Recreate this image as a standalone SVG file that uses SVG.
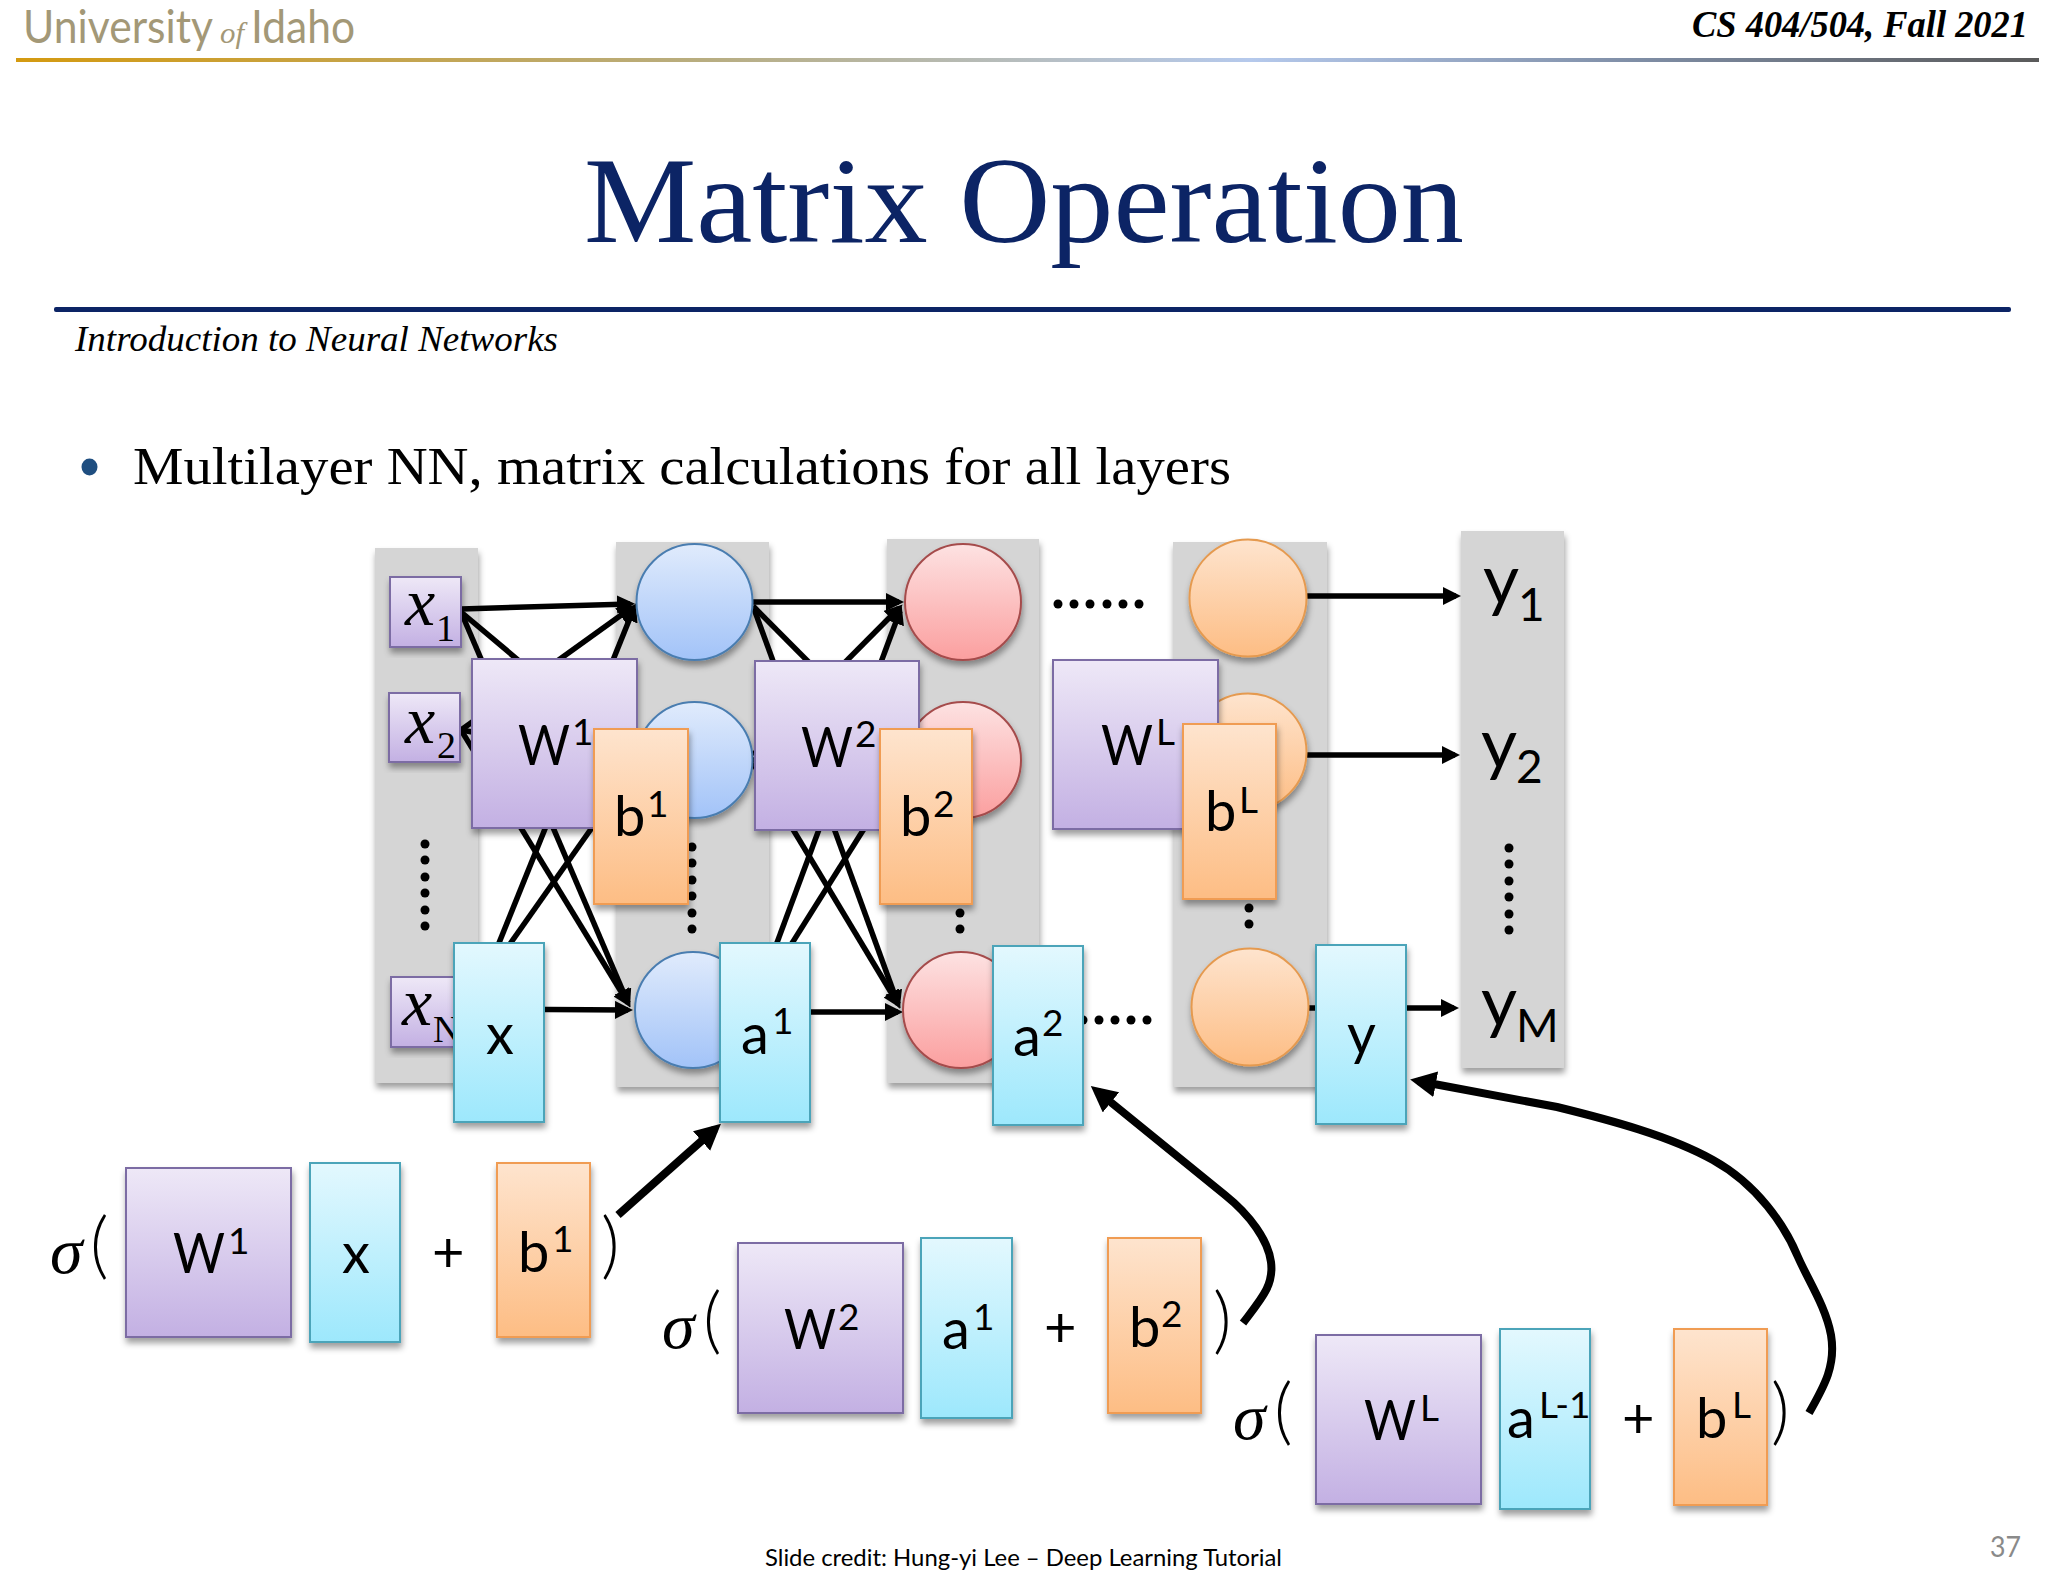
<svg xmlns="http://www.w3.org/2000/svg" width="2048" height="1582" viewBox="0 0 2048 1582">
<defs>
<linearGradient id="gPur" x1="0" y1="0" x2="0" y2="1"><stop offset="0" stop-color="#eee8f7"/><stop offset="1" stop-color="#c3b0e3"/></linearGradient>
<linearGradient id="gCya" x1="0" y1="0" x2="0" y2="1"><stop offset="0" stop-color="#e3f8fe"/><stop offset="1" stop-color="#9de8fc"/></linearGradient>
<linearGradient id="gOra" x1="0" y1="0" x2="0" y2="1"><stop offset="0" stop-color="#fee4ce"/><stop offset="1" stop-color="#fdbd84"/></linearGradient>
<linearGradient id="gBlu" x1="0" y1="0" x2="0" y2="1"><stop offset="0" stop-color="#e0ebfc"/><stop offset="1" stop-color="#a2c3f8"/></linearGradient>
<linearGradient id="gRed" x1="0" y1="0" x2="0" y2="1"><stop offset="0" stop-color="#fde2e2"/><stop offset="1" stop-color="#fb9f9f"/></linearGradient>
<linearGradient id="gRule" x1="0" y1="0" x2="1" y2="0"><stop offset="0" stop-color="#d49a10"/><stop offset="0.34" stop-color="#b8ad80"/><stop offset="0.61" stop-color="#b5c9ec"/><stop offset="0.8" stop-color="#7f8ea6"/><stop offset="1" stop-color="#5a5a5a"/></linearGradient>
<filter id="sh" x="-15%" y="-15%" width="130%" height="130%"><feDropShadow dx="1" dy="5" stdDeviation="3" flood-color="#000" flood-opacity="0.38"/></filter>
<marker id="ah" markerUnits="userSpaceOnUse" markerWidth="24" markerHeight="24" refX="13" refY="9" orient="auto"><path d="M0 0L18 9L0 18z" fill="#000"/></marker>
<marker id="ahB" markerUnits="userSpaceOnUse" markerWidth="34" markerHeight="34" refX="18" refY="13" orient="auto"><path d="M0 0L26 13L0 26z" fill="#000"/></marker>
</defs>
<style>
.band{fill:#d5d5d5;filter:url(#sh)}
.pur{fill:url(#gPur);stroke:#7c6ca4;stroke-width:2;filter:url(#sh)}
.cya{fill:url(#gCya);stroke:#4ba4b9;stroke-width:2;filter:url(#sh)}
.ora{fill:url(#gOra);stroke:#f09c52;stroke-width:2;filter:url(#sh)}
.blu{fill:url(#gBlu);stroke:#4a7db0;stroke-width:2;filter:url(#sh)}
.red{fill:url(#gRed);stroke:#a54c4c;stroke-width:2;filter:url(#sh)}
.oc{fill:url(#gOra);stroke:#e59a50;stroke-width:2;filter:url(#sh)}
.l{font-family:Lato,"Liberation Sans",sans-serif;font-size:56px;fill:#000}
.s{font-family:Lato,"Liberation Sans",sans-serif;font-size:37px;fill:#000}
.yl{font-family:Lato,"Liberation Sans",sans-serif;font-size:70px;fill:#000}
.ys{font-family:Lato,"Liberation Sans",sans-serif;font-size:46px;fill:#000}
.xi{font-family:"Liberation Serif",serif;font-style:italic;font-size:68px;fill:#000}
.xs{font-family:"Liberation Serif",serif;font-size:38px;fill:#000}
.sg{font-family:"Liberation Serif",serif;font-style:italic;font-size:66px;fill:#000}
.p{font-family:Lato,"Liberation Sans",sans-serif;font-weight:300;font-size:72px;fill:#000}
.eh{stroke:#000;stroke-width:5.5;fill:none;marker-end:url(#ah)}
.c{stroke:#000;stroke-width:8;fill:none;marker-end:url(#ahB)}
.d{fill:#000}
</style>
<rect width="2048" height="1582" fill="#fff"/>
<g id="header">
<text x="23" y="43" font-family="Lato,'Liberation Sans',sans-serif" font-weight="400" font-size="46" fill="#a39877" textLength="190" lengthAdjust="spacingAndGlyphs">University</text>
<text x="220" y="43" font-family="'Liberation Serif',serif" font-style="italic" font-size="30" fill="#a39877" textLength="24" lengthAdjust="spacingAndGlyphs">of</text>
<text x="251" y="43" font-family="Lato,'Liberation Sans',sans-serif" font-weight="400" font-size="46" fill="#a39877" textLength="104" lengthAdjust="spacingAndGlyphs">Idaho</text>
<rect x="16" y="58" width="2023" height="4" fill="url(#gRule)"/>
<text x="1692" y="37" font-family="'Liberation Serif',serif" font-style="italic" font-weight="700" font-size="38" fill="#000" textLength="336" lengthAdjust="spacingAndGlyphs">CS 404/504, Fall 2021</text>
<text x="584" y="242" font-family="'Liberation Serif',serif" font-size="122" fill="#0c2465" textLength="880" lengthAdjust="spacingAndGlyphs">Matrix Operation</text>
<rect x="54" y="307" width="1957" height="5" rx="2" fill="#0c2465"/>
<text x="75" y="351" font-family="'Liberation Serif',serif" font-style="italic" font-size="36" fill="#000" textLength="483" lengthAdjust="spacingAndGlyphs">Introduction to Neural Networks</text>
<ellipse cx="89.5" cy="467" rx="8" ry="8.5" fill="#1f4e80"/>
<text x="133" y="484" font-family="'Liberation Serif',serif" font-size="53" fill="#000" textLength="1098" lengthAdjust="spacingAndGlyphs">Multilayer NN, matrix calculations for all layers</text>
</g>
<g id="layer-input"><rect class="band" x="375" y="548" width="103" height="535"/></g>
<g id="layer-1"><rect class="band" x="616" y="542" width="153" height="545"/></g>
<g id="layer-2"><rect class="band" x="887" y="539" width="152" height="544"/></g>
<g id="layer-L"><rect class="band" x="1173" y="542" width="154" height="545"/></g>
<g id="layer-output"><rect class="band" x="1461" y="531" width="103" height="537"/></g>
<g id="dots">
<circle class="d" cx="425" cy="844" r="4.5"/><circle class="d" cx="425" cy="860" r="4.5"/><circle class="d" cx="425" cy="877" r="4.5"/><circle class="d" cx="425" cy="893" r="4.5"/><circle class="d" cx="425" cy="910" r="4.5"/><circle class="d" cx="425" cy="926" r="4.5"/>
<circle class="d" cx="692" cy="847" r="4.5"/><circle class="d" cx="692" cy="863" r="4.5"/><circle class="d" cx="692" cy="880" r="4.5"/><circle class="d" cx="692" cy="896" r="4.5"/><circle class="d" cx="692" cy="913" r="4.5"/><circle class="d" cx="692" cy="929" r="4.5"/>
<circle class="d" cx="960" cy="913" r="4.5"/><circle class="d" cx="960" cy="929" r="4.5"/>
<circle class="d" cx="1249" cy="908" r="4.5"/><circle class="d" cx="1249" cy="924" r="4.5"/>
<circle class="d" cx="1509" cy="848" r="4.5"/><circle class="d" cx="1509" cy="864" r="4.5"/><circle class="d" cx="1509" cy="881" r="4.5"/><circle class="d" cx="1509" cy="897" r="4.5"/><circle class="d" cx="1509" cy="914" r="4.5"/><circle class="d" cx="1509" cy="930" r="4.5"/>
<circle class="d" cx="1058" cy="604" r="4.5"/><circle class="d" cx="1074" cy="604" r="4.5"/><circle class="d" cx="1090" cy="604" r="4.5"/><circle class="d" cx="1107" cy="604" r="4.5"/><circle class="d" cx="1123" cy="604" r="4.5"/><circle class="d" cx="1139" cy="604" r="4.5"/>
<circle class="d" cx="1083" cy="1020" r="4.5"/><circle class="d" cx="1099" cy="1020" r="4.5"/><circle class="d" cx="1115" cy="1020" r="4.5"/><circle class="d" cx="1131" cy="1020" r="4.5"/><circle class="d" cx="1147" cy="1020" r="4.5"/>
</g>
<g id="connectors">
<line class="eh" x1="461" y1="609" x2="630" y2="604"/>
<line class="eh" x1="461" y1="612" x2="631" y2="755"/>
<line class="eh" x1="461" y1="612" x2="628" y2="1003"/>
<line class="eh" x1="461" y1="730" x2="631" y2="608"/>
<line class="eh" x1="461" y1="730" x2="631" y2="760"/>
<line class="eh" x1="461" y1="730" x2="628" y2="1003"/>
<line class="eh" x1="472" y1="1010" x2="634" y2="608"/>
<line class="eh" x1="462" y1="1012" x2="634" y2="768"/>
<line class="eh" x1="470" y1="1009" x2="628" y2="1010"/>
<line class="eh" x1="753" y1="602" x2="899" y2="602"/>
<line class="eh" x1="753" y1="606" x2="901" y2="755"/>
<line class="eh" x1="753" y1="606" x2="898" y2="1004"/>
<line class="eh" x1="753" y1="755" x2="899" y2="608"/>
<line class="eh" x1="753" y1="760" x2="899" y2="760"/>
<line class="eh" x1="753" y1="763" x2="898" y2="1004"/>
<line class="eh" x1="752" y1="1010" x2="900" y2="611"/>
<line class="eh" x1="750" y1="1010" x2="901" y2="770"/>
<line class="eh" x1="752" y1="1012" x2="898" y2="1012"/>
<line class="eh" x1="1307" y1="596" x2="1456" y2="596"/>
<line class="eh" x1="1307" y1="755" x2="1455" y2="755"/>
<line class="eh" x1="1307" y1="1008" x2="1454" y2="1008"/>
<path class="c" d="M618 1215L715 1129"/>
<path class="c" d="M1243 1323C1262 1298 1274 1285 1271 1262C1268 1240 1250 1215 1225 1195L1097 1091"/>
<path class="c" d="M1809 1413C1825 1385 1836 1365 1831 1335C1826 1307 1808 1280 1798 1257C1785 1226 1758 1185 1713 1160C1670 1136 1610 1120 1557 1107L1418 1081"/>
</g>
<g id="x1"><rect class="pur" x="390" y="577" width="71" height="70"/><text class="xi" x="405" y="625">x</text><text class="xs" x="436" y="641">1</text></g>
<g id="x2"><rect class="pur" x="389" y="693" width="71" height="69"/><text class="xi" x="405" y="743">x</text><text class="xs" x="437" y="758">2</text></g>
<g id="xN"><rect class="pur" x="391" y="977" width="71" height="70"/><text class="xi" x="402" y="1025">x</text><text class="xs" x="433" y="1042">N</text></g>
<g id="blue1"><circle class="blu" cx="694.5" cy="602" r="58"/></g>
<g id="blue2"><circle class="blu" cx="694.5" cy="760" r="58"/></g>
<g id="blue3"><circle class="blu" cx="693" cy="1010" r="58"/></g>
<g id="red1"><circle class="red" cx="963" cy="602" r="58"/></g>
<g id="red2"><circle class="red" cx="963" cy="760" r="58"/></g>
<g id="red3"><circle class="red" cx="961" cy="1010" r="58"/></g>
<g id="or1"><circle class="oc" cx="1248" cy="598" r="58.5"/></g>
<g id="or2"><circle class="oc" cx="1248" cy="752" r="58.5"/></g>
<g id="or3"><circle class="oc" cx="1250" cy="1007" r="58.5"/></g>
<g id="W1"><rect class="pur" x="472" y="659" width="165" height="169"/><text class="l" x="518" y="765" textLength="52" lengthAdjust="spacingAndGlyphs">W</text><text class="s" x="572" y="745">1</text></g>
<g id="b1"><rect class="ora" x="594" y="729" width="94" height="175"/><text class="l" x="614" y="836">b</text><text class="s" x="647" y="817">1</text></g>
<g id="x"><rect class="cya" x="454" y="943" width="90" height="179"/><text class="l" x="486" y="1054">x</text></g>
<g id="a1"><rect class="cya" x="720" y="943" width="90" height="179"/><text class="l" x="741" y="1054">a</text><text class="s" x="772" y="1034">1</text></g>
<g id="W2"><rect class="pur" x="755" y="661" width="164" height="169"/><text class="l" x="801" y="767" textLength="52" lengthAdjust="spacingAndGlyphs">W</text><text class="s" x="855" y="747">2</text></g>
<g id="b2"><rect class="ora" x="880" y="729" width="92" height="175"/><text class="l" x="900" y="836">b</text><text class="s" x="933" y="817">2</text></g>
<g id="a2"><rect class="cya" x="993" y="946" width="90" height="179"/><text class="l" x="1013" y="1056">a</text><text class="s" x="1042" y="1036">2</text></g>
<g id="WL"><rect class="pur" x="1053" y="660" width="165" height="169"/><text class="l" x="1101" y="765" textLength="52" lengthAdjust="spacingAndGlyphs">W</text><text class="s" x="1156" y="745">L</text></g>
<g id="bL"><rect class="ora" x="1183" y="724" width="93" height="175"/><text class="l" x="1205" y="831">b</text><text class="s" x="1239" y="813">L</text></g>
<g id="y"><rect class="cya" x="1316" y="945" width="90" height="179"/><text class="l" x="1347" y="1054">y</text></g>
<g id="y1"><text class="yl" x="1483" y="604">y</text><text class="ys" x="1518" y="621">1</text></g>
<g id="y2"><text class="yl" x="1481" y="768">y</text><text class="ys" x="1516" y="783">2</text></g>
<g id="yM"><text class="yl" x="1481" y="1026">y</text><text class="ys" x="1516" y="1042">M</text></g>
<g id="formula-1">
<text class="sg" x="50" y="1273">σ</text><text class="p" x="90" y="1270">(</text>
<rect class="pur" x="126" y="1168" width="165" height="169"/><text class="l" x="173" y="1273" textLength="52" lengthAdjust="spacingAndGlyphs">W</text><text class="s" x="228" y="1254">1</text>
<rect class="cya" x="310" y="1163" width="90" height="179"/><text class="l" x="342" y="1273">x</text>
<text class="l" x="432" y="1272">+</text>
<rect class="ora" x="497" y="1163" width="93" height="174"/><text class="l" x="518" y="1272">b</text><text class="s" x="552" y="1252">1</text>
<text class="p" x="601" y="1270">)</text>
</g>
<g id="formula-2">
<text class="sg" x="662" y="1348">σ</text><text class="p" x="703" y="1345">(</text>
<rect class="pur" x="738" y="1243" width="165" height="170"/><text class="l" x="784" y="1349" textLength="52" lengthAdjust="spacingAndGlyphs">W</text><text class="s" x="838" y="1330">2</text>
<rect class="cya" x="921" y="1238" width="91" height="180"/><text class="l" x="942" y="1349">a</text><text class="s" x="973" y="1330">1</text>
<text class="l" x="1044" y="1347">+</text>
<rect class="ora" x="1108" y="1238" width="93" height="175"/><text class="l" x="1129" y="1347">b</text><text class="s" x="1161" y="1327">2</text>
<text class="p" x="1213" y="1345">)</text>
</g>
<g id="formula-3">
<text class="sg" x="1233" y="1439">σ</text><text class="p" x="1274" y="1436">(</text>
<rect class="pur" x="1316" y="1335" width="165" height="169"/><text class="l" x="1364" y="1440" textLength="52" lengthAdjust="spacingAndGlyphs">W</text><text class="s" x="1420" y="1421">L</text>
<rect class="cya" x="1500" y="1329" width="90" height="180"/><text class="l" x="1507" y="1438">a</text><text class="s" x="1539" y="1418">L-1</text>
<text class="l" x="1622" y="1438">+</text>
<rect class="ora" x="1674" y="1329" width="93" height="176"/><text class="l" x="1696" y="1438">b</text><text class="s" x="1732" y="1418">L</text>
<text class="p" x="1771" y="1436">)</text>
</g>
<g id="footer">
<text x="765" y="1566" font-family="Lato,'Liberation Sans',sans-serif" font-size="23" fill="#000" textLength="517" lengthAdjust="spacingAndGlyphs">Slide credit: Hung-yi Lee – Deep Learning Tutorial</text>
<text x="1990" y="1557" font-family="Lato,'Liberation Sans',sans-serif" font-size="29" fill="#8a8a8a" textLength="31" lengthAdjust="spacingAndGlyphs">37</text>
</g>
</svg>
